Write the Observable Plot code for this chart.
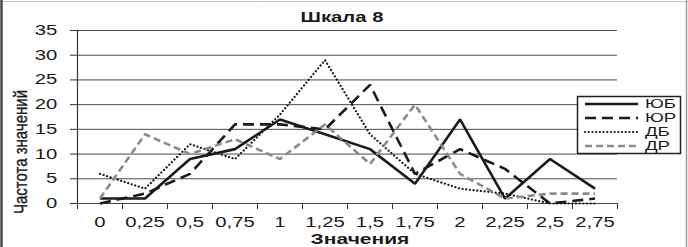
<!DOCTYPE html>
<html>
<head>
<meta charset="utf-8">
<script src="https://cdn.jsdelivr.net/npm/d3@7"></script>
<script src="https://cdn.jsdelivr.net/npm/@observablehq/plot@0.6"></script>
<style>
  html, body { margin: 0; padding: 0; background: #fff; }
  #wrap { position: relative; width: 688px; height: 247px; overflow: hidden; background: #fff; }
  #wrap svg { display: block; }
  #overlay { position: absolute; left: 0; top: 0; pointer-events: none; }
</style>
</head>
<body>
<div id="wrap"></div>
<script>
// ---- data ----
const labels = ["0", "0,25", "0,5", "0,75", "1", "1,25", "1,5", "1,75", "2", "2,25", "2,5", "2,75"];
const seriesNames = ["ЮБ", "ЮР", "ДБ", "ДР"];
const ub = [1, 1, 9, 11, 17, 14, 11, 4, 17, 1, 9, 3];
const ur = [0, 2, 6, 16, 16, 15, 24, 6, 11, 7, 0, 1];
const db = [6, 3, 12, 9, 18, 29, 14, 6, 3, 2, 0, 0];
const dr = [1, 14, 10, 13, 9, 16, 8, 20, 6, 1, 2, 2];
const yTicks = [0, 5, 10, 15, 20, 25, 30, 35];
const title = "Шкала 8";
const xTitle = "Значения";
const yTitle = "Частота значений";

// ---- styles ----
const FONT = "'Liberation Sans', Arial, sans-serif";
const INK = "#1a1a1a";
const STRETCH = 1.45;
const styles = [
  {stroke: INK, strokeWidth: 2.6, strokeDasharray: null, linecap: "butt"},
  {stroke: INK, strokeWidth: 2.6, strokeDasharray: "11,6", linecap: "butt"},
  {stroke: INK, strokeWidth: 2.2, strokeDasharray: "0.1,3.6", linecap: "round"},
  {stroke: "#8a8a8a", strokeWidth: 2.6, strokeDasharray: "7,4", linecap: "butt"}
];
const values = [ub, ur, db, dr];

const idx = labels.map((_, i) => i);
const bounds = labels.map((_, i) => i - 0.5).concat([labels.length - 0.5]);
const tidy = values.map((vals, s) => vals.map((v, i) => ({i, v, s: seriesNames[s]})));

const chart = Plot.plot({
  width: 688,
  height: 247,
  marginLeft: 77,
  marginRight: 71,
  marginTop: 30,
  marginBottom: 44,
  style: {fontFamily: FONT, fontSize: "14px", color: INK, background: "transparent", overflow: "visible"},
  x: {type: "linear", domain: [-0.5, labels.length - 0.5]},
  y: {domain: [0, 35]},
  marks: [
    Plot.gridY(yTicks, {stroke: "#4a4a4a", strokeOpacity: 1, strokeWidth: 1}),
    Plot.ruleX([bounds[0]], {stroke: "#333", strokeWidth: 1.2}),
    Plot.axisY({ticks: yTicks, tickSize: 7, tickPadding: 13, label: null, fontSize: 14, stroke: "#333"}),
    Plot.axisX({ticks: bounds, tickFormat: () => "", tickSize: 6, label: null, stroke: "#333"}),
    Plot.axisX({ticks: idx, tickFormat: i => labels[i], tickSize: 0, tickPadding: 14, label: null, fontSize: 14}),
    ...tidy.map((d, s) => Plot.line(d, {
      x: "i", y: "v",
      stroke: styles[s].stroke,
      strokeWidth: styles[s].strokeWidth,
      strokeDasharray: styles[s].strokeDasharray,
      strokeLinecap: styles[s].linecap,
      strokeLinejoin: "miter"
    }))
  ]
});

const wrap = document.getElementById("wrap");
wrap.appendChild(chart);

// stretch text horizontally about its anchor (reference text is horizontally widened)
function stretchText(svgRoot, t, sx, sy) {
  if (!t.textContent) return;
  const bb = t.getBBox();
  const anchor = getComputedStyle(t).textAnchor;
  const cx = anchor === "end" ? bb.x + bb.width : anchor === "middle" ? bb.x + bb.width / 2 : bb.x;
  const cy = bb.y + bb.height / 2;
  const list = t.transform.baseVal;
  const a = svgRoot.createSVGTransform(); a.setTranslate(cx, cy);
  const b = svgRoot.createSVGTransform(); b.setScale(sx, sy);
  const c = svgRoot.createSVGTransform(); c.setTranslate(-cx, -cy);
  list.appendItem(a); list.appendItem(b); list.appendItem(c);
}
chart.querySelectorAll("text").forEach(t => stretchText(chart, t, STRETCH, 1));

// ---- overlay: frame, titles, legend ----
const ov = d3.select(wrap).append("svg")
  .attr("id", "overlay")
  .attr("width", 688).attr("height", 247)
  .style("font-family", FONT);

// frame
ov.append("line").attr("x1", 0).attr("x2", 688).attr("y1", 1.5).attr("y2", 1.5).attr("stroke", "#c4c4c4").attr("stroke-width", 1);
ov.append("line").attr("x1", 1.5).attr("x2", 1.5).attr("y1", 0).attr("y2", 247).attr("stroke", "#4a4a4a").attr("stroke-width", 2.5);
ov.append("line").attr("x1", 686.5).attr("x2", 686.5).attr("y1", 0).attr("y2", 247).attr("stroke", "#9a9a9a").attr("stroke-width", 1.5);

// title
ov.append("text").text(title)
  .attr("transform", `translate(342,22) scale(${STRETCH},1)`)
  .attr("text-anchor", "middle").attr("font-weight", "bold").attr("font-size", 14).attr("fill", INK);

// x title
ov.append("text").text(xTitle)
  .attr("transform", `translate(360,244) scale(${STRETCH},1)`)
  .attr("text-anchor", "middle").attr("font-weight", "bold").attr("font-size", 14.5).attr("fill", INK);

// y title
ov.append("text").text(yTitle)
  .attr("transform", `translate(27,152) rotate(-90) scale(1,1.25)`)
  .attr("text-anchor", "middle").attr("font-size", 15).attr("fill", INK)
  .attr("stroke", INK).attr("stroke-width", 0.3);

// legend
const lg = ov.append("g").attr("transform", "translate(577,96)");
lg.append("rect").attr("x", 0.5).attr("y", 0.5).attr("width", 103).attr("height", 57)
  .attr("fill", "#fff").attr("stroke", "#222").attr("stroke-width", 1.5);
const rowY = [8, 22, 36, 50];
seriesNames.forEach((name, s) => {
  const st = styles[s];
  lg.append("line").attr("x1", 8).attr("x2", 61).attr("y1", rowY[s]).attr("y2", rowY[s])
    .attr("stroke", st.stroke).attr("stroke-width", st.strokeWidth)
    .attr("stroke-dasharray", st.strokeDasharray)
    .attr("stroke-linecap", st.linecap);
  lg.append("text").text(name)
    .attr("transform", `translate(68,${rowY[s] + 4.4}) scale(1.55,1)`)
    .attr("font-size", 12).attr("fill", INK);
});
</script>
</body>
</html>
